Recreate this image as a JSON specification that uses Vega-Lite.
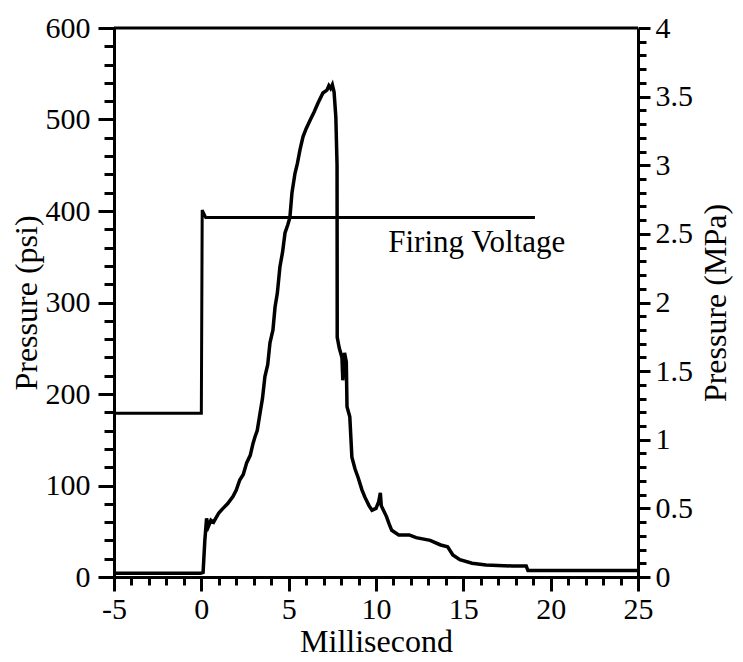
{
  "$schema": "https://vega.github.io/schema/vega-lite/v6.json",
  "autosize": "none",
  "width": 524,
  "height": 549,
  "padding": {"left": 114, "top": 28, "right": 105, "bottom": 85},
  "background": "white",
  "config": {
    "font": "Liberation Serif",
    "view": {"stroke": null},
    "axis": {
      "grid": false,
      "domainColor": "black",
      "domainWidth": 3,
      "tickColor": "black",
      "tickWidth": 3,
      "tickCount": 200,
      "labelColor": "black",
      "labelFont": "Liberation Serif",
      "labelFontSize": 30,
      "titleFont": "Liberation Serif",
      "titleFontSize": 32,
      "titleFontWeight": "normal",
      "titleColor": "black"
    }
  },
  "datasets": {
    "pressure": [
      {"ms": -5, "psi": 4}, {"ms": -0.05, "psi": 4}, {"ms": 0.1, "psi": 5}, {"ms": 0.2, "psi": 40},
      {"ms": 0.3, "psi": 64}, {"ms": 0.4, "psi": 55}, {"ms": 0.55, "psi": 62}, {"ms": 0.7, "psi": 60},
      {"ms": 1.0, "psi": 70}, {"ms": 1.24, "psi": 75}, {"ms": 1.5, "psi": 80}, {"ms": 1.81, "psi": 88},
      {"ms": 2.0, "psi": 95}, {"ms": 2.2, "psi": 106}, {"ms": 2.4, "psi": 112}, {"ms": 2.6, "psi": 125},
      {"ms": 2.8, "psi": 133}, {"ms": 2.96, "psi": 146}, {"ms": 3.07, "psi": 153}, {"ms": 3.2, "psi": 160},
      {"ms": 3.36, "psi": 179}, {"ms": 3.5, "psi": 195}, {"ms": 3.64, "psi": 219}, {"ms": 3.8, "psi": 232},
      {"ms": 3.93, "psi": 256}, {"ms": 4.1, "psi": 270}, {"ms": 4.22, "psi": 295}, {"ms": 4.35, "psi": 310},
      {"ms": 4.5, "psi": 339}, {"ms": 4.65, "psi": 355}, {"ms": 4.79, "psi": 376}, {"ms": 4.95, "psi": 385},
      {"ms": 5.07, "psi": 393}, {"ms": 5.19, "psi": 420}, {"ms": 5.36, "psi": 441}, {"ms": 5.5, "psi": 452},
      {"ms": 5.65, "psi": 467}, {"ms": 5.82, "psi": 481}, {"ms": 6.0, "psi": 490}, {"ms": 6.22, "psi": 499},
      {"ms": 6.45, "psi": 508}, {"ms": 6.68, "psi": 518}, {"ms": 6.96, "psi": 529}, {"ms": 7.19, "psi": 532},
      {"ms": 7.3, "psi": 537}, {"ms": 7.4, "psi": 534}, {"ms": 7.5, "psi": 538}, {"ms": 7.6, "psi": 530},
      {"ms": 7.7, "psi": 503}, {"ms": 7.77, "psi": 450}, {"ms": 7.78, "psi": 262}, {"ms": 7.9, "psi": 250},
      {"ms": 8.05, "psi": 240}, {"ms": 8.1, "psi": 215}, {"ms": 8.2, "psi": 245}, {"ms": 8.3, "psi": 235},
      {"ms": 8.34, "psi": 186}, {"ms": 8.5, "psi": 175}, {"ms": 8.62, "psi": 131}, {"ms": 8.8, "psi": 118},
      {"ms": 8.97, "psi": 109}, {"ms": 9.2, "psi": 95}, {"ms": 9.37, "psi": 87}, {"ms": 9.6, "psi": 78},
      {"ms": 9.77, "psi": 73}, {"ms": 10.0, "psi": 75}, {"ms": 10.15, "psi": 82}, {"ms": 10.25, "psi": 92},
      {"ms": 10.3, "psi": 78}, {"ms": 10.6, "psi": 66}, {"ms": 10.75, "psi": 58}, {"ms": 10.9, "psi": 51},
      {"ms": 11.3, "psi": 46}, {"ms": 11.9, "psi": 46}, {"ms": 12.3, "psi": 43}, {"ms": 13.1, "psi": 40},
      {"ms": 13.7, "psi": 35}, {"ms": 14.1, "psi": 33}, {"ms": 14.4, "psi": 24}, {"ms": 14.8, "psi": 19},
      {"ms": 15.5, "psi": 15}, {"ms": 16.3, "psi": 13}, {"ms": 17.8, "psi": 12}, {"ms": 18.6, "psi": 12},
      {"ms": 18.7, "psi": 7}, {"ms": 25, "psi": 7}
    ],
    "voltage": [
      {"ms": -5, "psi": 179}, {"ms": 0, "psi": 179}, {"ms": 0.05, "psi": 401},
      {"ms": 0.25, "psi": 393}, {"ms": 19.1, "psi": 393}
    ],
    "label": [{"ms": 10.7, "psi": 355, "text": "Firing Voltage"}],
    "frame": [{"ms": -5, "ms2": 25, "mpa": 4}]
  },
  "layer": [
    {
      "layer": [
        {
          "data": {"name": "pressure"},
          "mark": {"type": "line", "color": "black", "strokeWidth": 3.5, "interpolate": "linear"},
          "encoding": {
            "x": {
              "field": "ms", "type": "quantitative",
              "scale": {"domain": [-5, 25], "nice": false, "zero": false},
              "axis": {
                "title": "Millisecond",
                "tickCount": 200,
                "values": [-5,-4,-3,-2,-1,0,1,2,3,4,5,6,7,8,9,10,11,12,13,14,15,16,17,18,19,20,21,22,23,24,25],
                "labelExpr": "datum.value % 5 === 0 ? '' + datum.value : ''",
                "tickSize": {"condition": {"test": "datum.value % 5 === 0", "value": 14}, "value": 8},
                "labelPadding": 3,
                "titlePadding": 2,
                "labelFlush": false,
                "labelOverlap": false
              }
            },
            "y": {
              "field": "psi", "type": "quantitative",
              "scale": {"domain": [0, 600], "nice": false},
              "axis": {
                "title": "Pressure (psi)",
                "tickCount": 200,
                "values": [0,20,40,60,80,100,120,140,160,180,200,220,240,260,280,300,320,340,360,380,400,420,440,460,480,500,520,540,560,580,600],
                "labelExpr": "datum.value % 100 === 0 ? '' + datum.value : ''",
                "tickSize": {"condition": {"test": "datum.value % 100 === 0", "value": 16}, "value": 10},
                "labelPadding": 8,
                "titlePadding": 2,
                "labelFlush": false,
                "labelOverlap": false
              }
            }
          }
        },
        {
          "data": {"name": "voltage"},
          "mark": {"type": "line", "color": "black", "strokeWidth": 3},
          "encoding": {
            "x": {"field": "ms", "type": "quantitative", "title": "Millisecond"},
            "y": {"field": "psi", "type": "quantitative", "title": "Pressure (psi)"}
          }
        },
        {
          "data": {"name": "label"},
          "mark": {"type": "text", "align": "left", "baseline": "alphabetic", "fontSize": 31, "font": "Liberation Serif", "color": "black"},
          "encoding": {
            "x": {"field": "ms", "type": "quantitative", "title": "Millisecond"},
            "y": {"field": "psi", "type": "quantitative", "title": "Pressure (psi)"},
            "text": {"field": "text"}
          }
        }
      ]
    },
    {
      "data": {"name": "frame"},
      "mark": {"type": "rule", "color": "black", "strokeWidth": 3},
      "encoding": {
        "x": {"field": "ms", "type": "quantitative", "title": "Millisecond"},
        "x2": {"field": "ms2"},
        "y": {
          "field": "mpa", "type": "quantitative",
          "scale": {"domain": [0, 4], "nice": false},
          "axis": {
            "orient": "right",
            "title": "Pressure (MPa)",
            "titleAngle": 270,
            "titleBaseline": "top",
            "tickCount": 200,
            "values": [0,0.1,0.2,0.3,0.4,0.5,0.6,0.7,0.8,0.9,1,1.1,1.2,1.3,1.4,1.5,1.6,1.7,1.8,1.9,2,2.1,2.2,2.3,2.4,2.5,2.6,2.7,2.8,2.9,3,3.1,3.2,3.3,3.4,3.5,3.6,3.7,3.8,3.9,4],
            "labelExpr": "round(datum.value*10) % 5 === 0 ? '' + round(datum.value*10)/10 : ''",
            "tickSize": {"condition": {"test": "round(datum.value*10) % 5 === 0", "value": 12}, "value": 8},
            "labelPadding": 5,
            "titlePadding": 8,
            "labelFlush": false,
            "labelOverlap": false
          }
        }
      }
    }
  ],
  "resolve": {"scale": {"y": "independent"}}
}
